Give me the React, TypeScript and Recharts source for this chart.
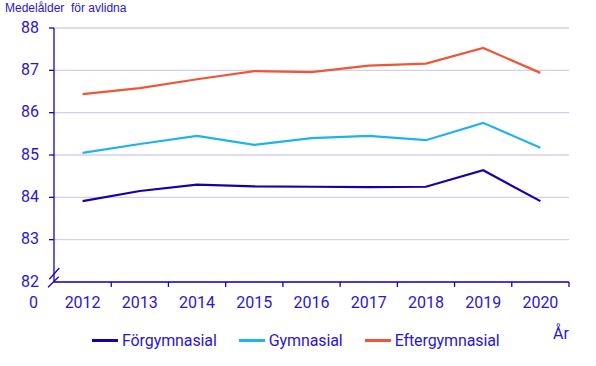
import React from "react";
import { LineChart, Line, XAxis, YAxis, CartesianGrid } from "recharts";

const years = [2012, 2013, 2014, 2015, 2016, 2017, 2018, 2019, 2020];
const forgymnasial = [83.91, 84.15, 84.3, 84.26, 84.25, 84.24, 84.25, 84.64, 83.91];
const gymnasial = [85.05, 85.26, 85.45, 85.24, 85.4, 85.45, 85.35, 85.76, 85.17];
const eftergymnasial = [86.44, 86.58, 86.79, 86.98, 86.96, 87.11, 87.16, 87.53, 86.94];
const yTicks = [82, 83, 84, 85, 86, 87, 88];

const series = [
  { key: "forgymnasial", name: "Förgymnasial", color: "#1500ac" },
  { key: "gymnasial", name: "Gymnasial", color: "#1eb4eb" },
  { key: "eftergymnasial", name: "Eftergymnasial", color: "#f05537" },
];

const data = years.map((year, i) => ({
  year,
  forgymnasial: forgymnasial[i],
  gymnasial: gymnasial[i],
  eftergymnasial: eftergymnasial[i],
}));

const W = 596;
const H = 366;
const M = { top: 28, right: 27, left: 0, bottom: 54 };
const Y_W = 54;
const X_H = 30;
const PLOT_W = W - M.left - M.right - Y_W;
const BW = PLOT_W / years.length;
const TEXT = "#2a16d4";
const AXIS = "#1a00c8";
const GRID = "#d4d0ec";
const FONT = "Roboto, sans-serif";
const Y_MARGIN = 15;
const X_MARGIN = 12;

const YTick = (props: any) => {
  const { x, y, payload } = props;
  const ax = x + Y_MARGIN;
  return (
    <g>
      <text x={x} y={y} dy={4.8} textAnchor="end" fill={TEXT} fontSize={16} fontFamily={FONT}>
        {payload.value}
      </text>
      {payload.value === yTicks[0] ? (
        <g stroke={AXIS} strokeWidth={1.3}>
          <line x1={ax - 4.7} y1={y - 2.7} x2={ax + 5.3} y2={y - 14} />
          <line x1={ax - 6} y1={y + 5.3} x2={ax + 4.7} y2={y - 5.3} />
        </g>
      ) : (
        <line x1={ax - 5} x2={ax} y1={y} y2={y} stroke={AXIS} strokeWidth={1.3} />
      )}
    </g>
  );
};

const XTick = (props: any) => {
  const { x, y, payload, index } = props;
  const ay = y - X_MARGIN;
  return (
    <g>
      <text x={x} y={y} dy={13.7} textAnchor="middle" fill={TEXT} fontSize={16} fontFamily={FONT}>
        {payload.value}
      </text>
      <line x1={x + BW / 2} x2={x + BW / 2} y1={ay} y2={ay + 5} stroke={AXIS} strokeWidth={1.3} />
      {index === 0 ? (
        <text x={x - BW / 2 - 20.5} y={y} dy={13.7} textAnchor="middle" fill={TEXT} fontSize={16} fontFamily={FONT}>
          0
        </text>
      ) : null}
    </g>
  );
};

export default function App() {
  return (
    <div style={{ position: "absolute", left: 0, top: 0, width: W, height: H, background: "#fff" }}>
      <LineChart width={W} height={H} data={data} margin={M}>
        <CartesianGrid horizontal={true} vertical={false} stroke={GRID} strokeWidth={1.3} />
        <XAxis
          dataKey="year"
          type="number"
          domain={[years[0] - 0.5, years[years.length - 1] + 0.5]}
          ticks={years}
          height={X_H}
          tickSize={0}
          tickMargin={X_MARGIN}
          tickLine={false}
          axisLine={{ stroke: AXIS, strokeWidth: 1.3 }}
          tick={<XTick />}
          interval={0}
        />
        <YAxis
          domain={[yTicks[0], yTicks[yTicks.length - 1]]}
          ticks={yTicks}
          width={Y_W}
          tickSize={0}
          tickMargin={Y_MARGIN}
          tickLine={false}
          axisLine={{ stroke: AXIS, strokeWidth: 1.3 }}
          tick={<YTick />}
          interval={0}
        />
        {series.map((s) => (
          <Line
            key={s.key}
            dataKey={s.key}
            name={s.name}
            stroke={s.color}
            strokeWidth={2.2}
            dot={false}
            activeDot={false}
            isAnimationActive={false}
          />
        ))}
      </LineChart>
      <div
        style={{
          position: "absolute",
          left: 5,
          top: 1,
          fontFamily: "'Liberation Sans', Arial, sans-serif",
          fontSize: 12,
          lineHeight: "14px",
          color: TEXT,
          whiteSpace: "pre",
        }}
      >
        {"Medelålder  för avlidna"}
      </div>
      <div
        style={{
          position: "absolute",
          left: 92,
          top: 330.5,
          display: "flex",
          alignItems: "center",
          fontFamily: FONT,
          fontSize: 16,
          lineHeight: "20px",
          letterSpacing: "-0.1px",
          color: TEXT,
          whiteSpace: "nowrap",
        }}
      >
        {series.map((s) => (
          <div key={s.key} style={{ display: "flex", alignItems: "center", marginRight: 22 }}>
            <div style={{ width: 26, height: 2.5, background: s.color, marginRight: 4 }} />
            <span>{s.name}</span>
          </div>
        ))}
      </div>
      <div
        style={{
          position: "absolute",
          left: 553,
          top: 323.5,
          fontFamily: FONT,
          fontSize: 16,
          lineHeight: "20px",
          color: TEXT,
        }}
      >
        År
      </div>
    </div>
  );
}
